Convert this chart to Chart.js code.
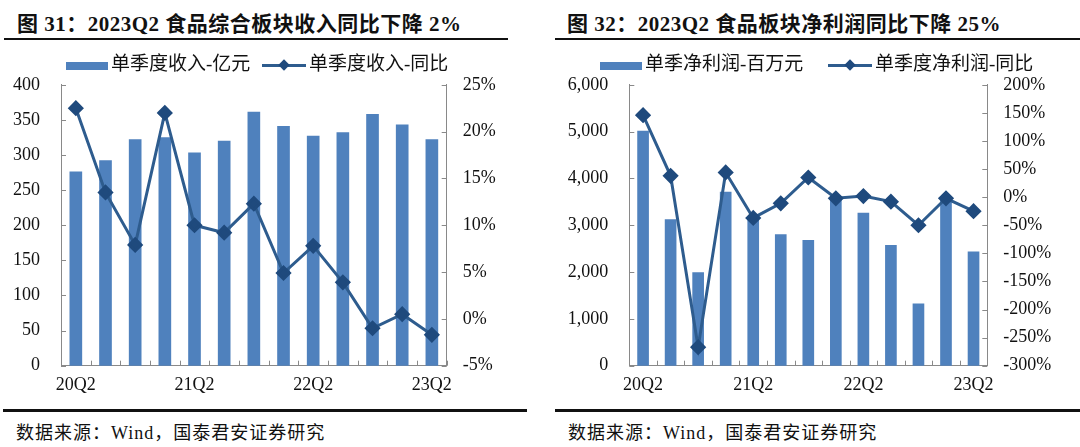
<!DOCTYPE html>
<html>
<head>
<meta charset="utf-8">
<script src="https://cdn.jsdelivr.net/npm/chart.js@4.4.0/dist/chart.umd.min.js"></script>
<style>
  body { margin: 0; background: #fff; width: 1080px; height: 447px; overflow: hidden; position: relative;
         font-family: "Liberation Serif", "Times New Roman", "Noto Sans CJK SC", serif; color: #111; }
  .title { position: absolute; top: 7px; font-size: 21px; font-weight: bold; white-space: nowrap; letter-spacing: 0.5px; }
  .rule { position: absolute; height: 2px; background: #111; }
  .src { position: absolute; top: 418px; font-size: 18px; white-space: nowrap; letter-spacing: 1px; }
  .box { position: absolute; top: 53px; }
  .leg { position: absolute; top: 54px; font-size: 19px; white-space: nowrap; height: 20px; line-height: 20px; }
  .sw-bar { display: inline-block; width: 42px; height: 8px; background: #4F81BD; vertical-align: middle; margin-right: 3px; }
  .sw-line { display: inline-block; position: relative; width: 44px; height: 3px; background: #2E5C8E; vertical-align: middle; margin-right: 3px; }
  .sw-line i { position: absolute; left: 18px; top: -3px; width: 8px; height: 8px; background: #1F4A7D; transform: rotate(45deg); }
</style>
</head>
<body>

<div class="title" style="left:17px">图 31：2023Q2 食品综合板块收入同比下降 2%</div>
<div class="rule" style="left:4px; width:504px; top:38px"></div>
<div class="title" style="left:567px">图 32：2023Q2 食品板块净利润同比下降 25%</div>
<div class="rule" style="left:555px; width:525px; top:38px"></div>

<div class="box" style="left:0"><canvas id="c1" width="530" height="347"></canvas></div>
<div class="box" style="left:540px"><canvas id="c2" width="540" height="347"></canvas></div>

<div class="leg" style="left:66px"><span class="sw-bar"></span>单季度收入-亿元</div>
<div class="leg" style="left:262px"><span class="sw-line"><i></i></span>单季度收入-同比</div>
<div class="leg" style="left:600px"><span class="sw-bar"></span>单季净利润-百万元</div>
<div class="leg" style="left:828px"><span class="sw-line"><i></i></span>单季度净利润-同比</div>

<div class="rule" style="left:3px; width:524px; top:409px; height:3px"></div>
<div class="rule" style="left:555px; width:525px; top:409px; height:3px"></div>
<div class="src" style="left:16px">数据来源：Wind，国泰君安证券研究</div>
<div class="src" style="left:568px">数据来源：Wind，国泰君安证券研究</div>

<script>
// quarters on the x axis
const quarters = ["20Q2", "20Q3", "20Q4", "21Q1", "21Q2", "21Q3", "21Q4", "22Q1",
                  "22Q2", "22Q3", "22Q4", "23Q1", "23Q2"];

// chart 31: revenue (亿元) and yoy (%)
const revenue = [276, 292, 322, 325, 303, 320, 361, 341, 327, 332, 358, 343, 322];
const revenueYoy = [22.5, 13.5, 7.9, 22.0, 10.0, 9.2, 12.3, 4.9, 7.8, 3.9, -1.0, 0.5, -1.7];

// chart 32: net profit (百万元) and yoy (%)
const profit = [5010, 3120, 1990, 3710, 3170, 2800, 2680, 3600, 3260, 2570, 1320, 3530, 2430];
const profitYoy = [146, 38, -267, 44, -37, -11, 35, -2, 2, -8, -50, -2, -25];

const barColor = "#4F81BD";
const lineColor = "#2E5C8E";
const markColor = "#1F4A7D";
const axisColor = "#898989";
const tickFont = { family: "'Liberation Serif', 'Times New Roman', serif", size: 18 };

// short tick marks drawn inside the plot, like the excel original
const innerTicks = {
  id: "innerTicks",
  afterDraw(chart) {
    const ctx = chart.ctx;
    const area = chart.chartArea;
    ctx.save();
    ctx.strokeStyle = axisColor;
    ctx.lineWidth = 1;
    ctx.beginPath();
    const x = chart.scales.x;
    const step = (x.getPixelForValue(1) - x.getPixelForValue(0));
    for (let i = 0; i <= quarters.length; i++) {
      const px = Math.round(x.getPixelForValue(0) - step / 2 + i * step) + 0.5;
      ctx.moveTo(px, area.bottom);
      ctx.lineTo(px, area.bottom - 5);
    }
    for (const t of chart.scales.y.ticks) {
      const py = Math.round(chart.scales.y.getPixelForValue(t.value)) + 0.5;
      ctx.moveTo(area.left, py);
      ctx.lineTo(area.left + 5, py);
    }
    for (const t of chart.scales.y1.ticks) {
      const py = Math.round(chart.scales.y1.getPixelForValue(t.value)) + 0.5;
      ctx.moveTo(area.right, py);
      ctx.lineTo(area.right - 5, py);
    }
    ctx.stroke();
    ctx.restore();
  }
};

function makeChart(id, bars, yoy, opt) {
  return new Chart(id, {
    type: "bar",
    data: {
      labels: quarters,
      datasets: [
        {
          type: "line",
          data: yoy,
          yAxisID: "y1",
          borderColor: lineColor,
          borderWidth: 3,
          pointStyle: "rectRot",
          pointRadius: 6,
          pointBackgroundColor: markColor,
          pointBorderColor: markColor,
          tension: 0,
          order: 0
        },
        {
          data: bars,
          yAxisID: "y",
          backgroundColor: barColor,
          barThickness: opt.barW,
          order: 1
        }
      ]
    },
    options: {
      responsive: false,
      animation: false,
      layout: { padding: { top: 14 } },
      plugins: { legend: { display: false }, tooltip: { enabled: false } },
      scales: {
        x: {
          grid: { display: false, drawTicks: false },
          border: { display: true, color: axisColor },
          ticks: {
            font: tickFont, color: "#111", autoSkip: false, maxRotation: 0, padding: 9,
            callback: (v, i) => (i % 4 === 0 ? quarters[i] : "")
          },
          afterFit: s => { s.height = 34.3; }
        },
        y: {
          position: "left",
          min: opt.yMin, max: opt.yMax,
          grid: { display: false, drawTicks: false },
          border: { display: true, color: axisColor },
          ticks: {
            stepSize: opt.yStep, font: tickFont, color: "#111", padding: 21,
            callback: v => v.toLocaleString("en-US")
          },
          afterFit: s => { s.width = opt.leftW; }
        },
        y1: {
          position: "right",
          min: opt.rMin, max: opt.rMax,
          grid: { display: false, drawTicks: false },
          border: { display: true, color: axisColor },
          ticks: {
            stepSize: opt.rStep, font: tickFont, color: "#111", padding: 16,
            callback: v => v + "%"
          },
          afterFit: s => { s.width = opt.rightW; }
        }
      }
    },
    plugins: [innerTicks]
  });
}

makeChart("c1", revenue, revenueYoy,
  { yMin: 0, yMax: 400, yStep: 50, rMin: -5, rMax: 25, rStep: 5, leftW: 61, rightW: 83.3, barW: 12 });
makeChart("c2", profit, profitYoy,
  { yMin: 0, yMax: 6000, yStep: 1000, rMin: -300, rMax: 200, rStep: 50, leftW: 89.3, rightW: 92.7, barW: 11 });
</script>
</body>
</html>
